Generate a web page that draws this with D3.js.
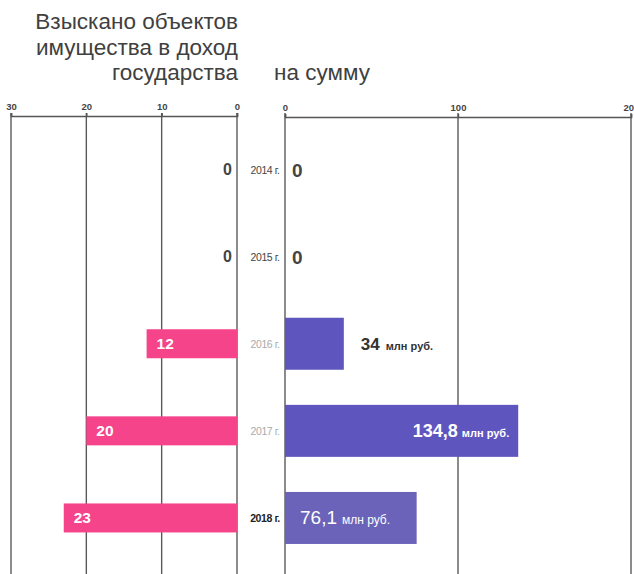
<!DOCTYPE html>
<html>
<head>
<meta charset="utf-8">
<script src="https://cdn.jsdelivr.net/npm/d3@7"></script>
<style>
  html, body { margin: 0; padding: 0; background: #fff; }
  svg { display: block; font-family: "Liberation Sans", Arial, sans-serif; }
</style>
</head>
<body>
<svg id="chart" width="634" height="574"></svg>
<script>
// ---- data ----
const years = ["2014 г.", "2015 г.", "2016 г.", "2017 г.", "2018 г."];
const objectsCount = [0, 0, 12, 20, 23];
const amountMln = [0, 0, 34, 134.8, 76.1];
const amountLabels = ["0", "0", "34", "134,8", "76,1"];
const leftTicks = [30, 20, 10, 0];
const rightTicks = [0, 100, 200];
const titleLeft = ["Взыскано объектов", "имущества в доход", "государства"];
const titleRight = "на сумму";
const unit = "млн руб.";

// ---- layout ----
const svg = d3.select("#chart");
const xL = d3.scaleLinear().domain([0, 30]).range([237, 11]);
const xR = d3.scaleLinear().domain([0, 200]).range([285, 631]);
const y = d3.scaleBand().domain(years).range([126, 561.5]).paddingInner(0).paddingOuter(0);
const cy = d => y(d) + y.bandwidth() / 2;
const pinkH = 29, purpleH = 52;
const axisY = 116, gridBottom = 574;

// titles
const tl = svg.append("text").attr("text-anchor", "end").attr("fill", "#404040")
  .attr("font-size", 22.5);
titleLeft.forEach((t, i) => tl.append("tspan").attr("x", 238).attr("y", 29 + i * 25.5).text(t));
svg.append("text").attr("x", 274).attr("y", 80).attr("fill", "#404040")
  .attr("font-size", 22.5).text(titleRight);

// gridlines
svg.append("g").selectAll("line").data(leftTicks).join("line")
  .attr("x1", d => xL(d)).attr("x2", d => xL(d))
  .attr("y1", axisY - 3).attr("y2", gridBottom)
  .attr("stroke", "#5a5a5a").attr("stroke-width", 1.4);
svg.append("g").selectAll("line").data(rightTicks).join("line")
  .attr("x1", d => xR(d)).attr("x2", d => xR(d))
  .attr("y1", axisY - 3).attr("y2", gridBottom)
  .attr("stroke", "#5a5a5a").attr("stroke-width", 1.4);

// axes
const axL = svg.append("g").attr("transform", `translate(0,${axisY})`)
  .call(d3.axisTop(xL).tickValues(leftTicks).tickSize(3).tickFormat(d3.format("d")));
const axR = svg.append("g").attr("transform", `translate(0,${axisY + 1})`)
  .call(d3.axisTop(xR).tickValues(rightTicks).tickSize(3).tickFormat(d3.format("d")));
[axL, axR].forEach(a => {
  a.select(".domain").attr("stroke", "#555").attr("stroke-width", 1.6);
  a.selectAll(".tick line").attr("stroke", "#555").attr("stroke-width", 1.4);
  a.selectAll(".tick text").attr("fill", "#444").attr("font-size", 9.5)
    .attr("font-weight", "bold").attr("font-family", "Liberation Sans, Arial, sans-serif");
});

// bars
const rows = years.map((yr, i) => ({ yr, i, n: objectsCount[i], v: amountMln[i], lab: amountLabels[i] }));

svg.append("g").selectAll("rect").data(rows.filter(d => d.n > 0)).join("rect")
  .attr("x", d => xL(d.n)).attr("width", d => xL(0) - xL(d.n))
  .attr("y", d => cy(d.yr) - pinkH / 2).attr("height", pinkH)
  .attr("fill", "#f5448a");
svg.append("g").selectAll("rect").data(rows.filter(d => d.v > 0)).join("rect")
  .attr("x", xR(0)).attr("width", d => xR(d.v) - xR(0))
  .attr("y", d => cy(d.yr) - purpleH / 2).attr("height", purpleH)
  .attr("fill", d => d.i === 4 ? "#6b63b9" : "#5f55bf");

// year labels
svg.append("g").selectAll("text").data(rows).join("text")
  .attr("x", 265).attr("y", d => cy(d.yr) + 4).attr("text-anchor", "middle")
  .attr("font-size", 10.5).attr("font-weight", d => d.i === 4 ? "bold" : "normal")
  .attr("fill", d => d.i === 4 ? "#222" : (d.i < 2 ? "#444" : "#aaa"))
  .attr("letter-spacing", -0.4)
  .text(d => d.yr);

// left value labels
svg.append("g").selectAll("text").data(rows).join("text")
  .attr("x", d => d.n > 0 ? xL(d.n) + 10 : xL(0) - 5)
  .attr("y", d => cy(d.yr) + 5.5)
  .attr("text-anchor", d => d.n > 0 ? "start" : "end")
  .attr("font-size", d => d.n > 0 ? 15.5 : 16).attr("font-weight", "bold")
  .attr("fill", d => d.n > 0 ? "#fff" : "#444")
  .text(d => d.n);

// right value labels
const rg = svg.append("g");
rows.forEach(d => {
  if (d.v === 0) {
    rg.append("text").attr("x", xR(0) + 7).attr("y", cy(d.yr) + 7)
      .attr("font-size", 19).attr("font-weight", "bold").attr("fill", "#444").text(d.lab);
    return;
  }
  const t = rg.append("text").attr("y", cy(d.yr) + 6);
  if (d.i === 2) {
    t.attr("x", xR(d.v) + 17).attr("fill", "#333");
    t.append("tspan").attr("font-size", 17).attr("font-weight", "bold").text(d.lab);
    t.append("tspan").attr("dx", 6).attr("font-size", 11).attr("font-weight", "bold").text(unit);
  } else if (d.i === 3) {
    t.attr("x", xR(d.v) - 9).attr("text-anchor", "end").attr("fill", "#fff");
    t.append("tspan").attr("font-size", 18).attr("font-weight", "bold").text(d.lab);
    t.append("tspan").attr("dx", 4).attr("font-size", 11).attr("font-weight", "bold").text(unit);
  } else {
    t.attr("x", xR(0) + 15).attr("fill", "#fff");
    t.append("tspan").attr("font-size", 19).text(d.lab);
    t.append("tspan").attr("dx", 5).attr("font-size", 12).text(unit);
  }
});
</script>
</body>
</html>
